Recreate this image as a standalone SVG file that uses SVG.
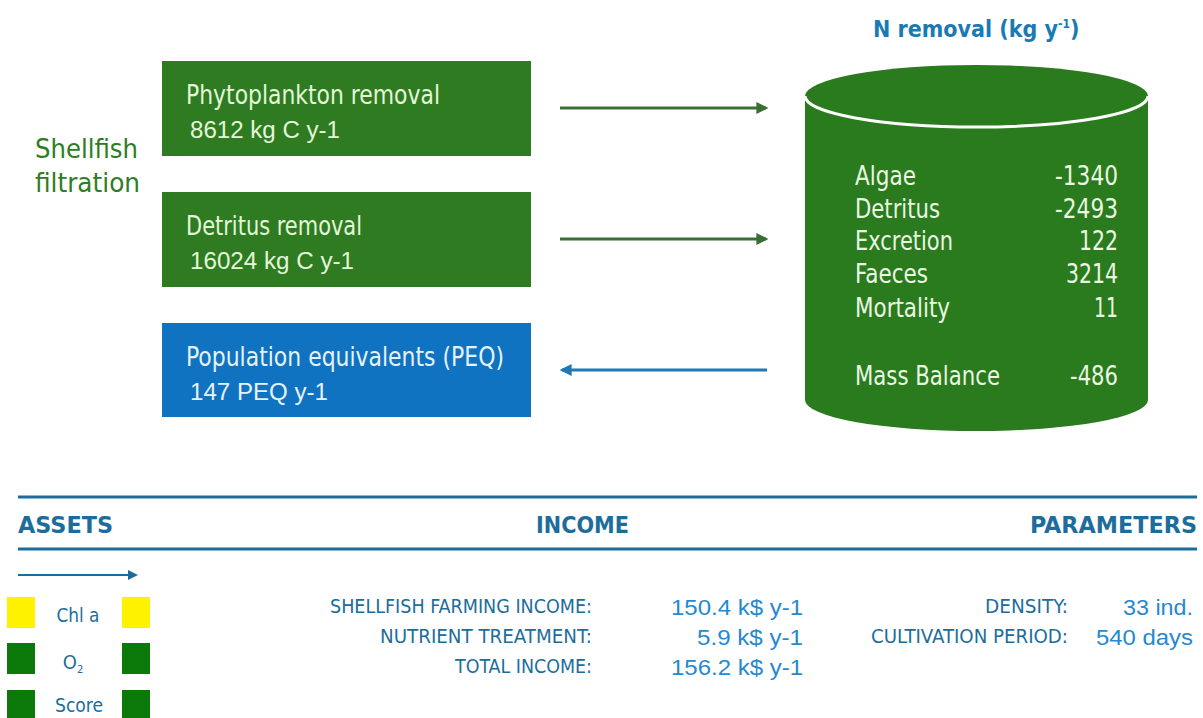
<svg xmlns="http://www.w3.org/2000/svg" width="1203" height="718" viewBox="0 0 1203 718">
<defs>
<style>
.cond{font-family:"DejaVu Sans Condensed","Liberation Sans",sans-serif;font-stretch:condensed}
.arial{font-family:"Liberation Sans",Arial,sans-serif}
.boxt{fill:#e4f7d8}
.hdr{fill:#1c6d9c;font-weight:bold;font-size:23px}
.lbl{fill:#1c6d9c;font-size:19px}
.val{fill:#2589d2;font-size:22px}
.cyl{fill:#eaf7e2;font-size:26px}
</style>
<marker id="ahG" viewBox="0 0 10 10" refX="8" refY="5" markerWidth="4" markerHeight="4" orient="auto"><path d="M0,0 L10,5 L0,10 Z" fill="#3b6e36"/></marker>
<marker id="ahB" viewBox="0 0 10 10" refX="8" refY="5" markerWidth="4" markerHeight="4" orient="auto"><path d="M0,0 L10,5 L0,10 Z" fill="#1f78b4"/></marker>
<marker id="ahT" viewBox="0 0 10 10" refX="8" refY="5" markerWidth="5" markerHeight="5" orient="auto"><path d="M0,0 L10,5 L0,10 Z" fill="#1c6d9c"/></marker>
</defs>
<rect width="1203" height="718" fill="#ffffff"/>

<text class="cond" x="35" y="158" font-size="27" fill="#2e7d22" textLength="103" lengthAdjust="spacingAndGlyphs">Shellfish</text>
<text class="cond" x="35" y="192" font-size="27" fill="#2e7d22" textLength="105" lengthAdjust="spacingAndGlyphs">filtration</text>

<g id="phyto">
<rect x="162" y="61" width="369" height="95" fill="#2e7b22"/>
<text class="cond boxt" x="186" y="104" font-size="26" textLength="254" lengthAdjust="spacingAndGlyphs">Phytoplankton removal</text>
<text class="arial boxt" x="190" y="138" font-size="23" textLength="150" lengthAdjust="spacingAndGlyphs">8612 kg C y-1</text>
</g>
<g id="detritus">
<rect x="162" y="192" width="369" height="95" fill="#2e7b22"/>
<text class="cond boxt" x="186" y="235" font-size="26" textLength="176" lengthAdjust="spacingAndGlyphs">Detritus removal</text>
<text class="arial boxt" x="190" y="269" font-size="23" textLength="164" lengthAdjust="spacingAndGlyphs">16024 kg C y-1</text>
</g>
<g id="peq">
<rect x="162" y="323" width="369" height="94" fill="#0f73c1"/>
<text class="cond" fill="#e6f2fb" x="186" y="366" font-size="26" textLength="318" lengthAdjust="spacingAndGlyphs">Population equivalents (PEQ)</text>
<text class="arial" fill="#e6f2fb" x="190" y="400" font-size="23" textLength="138" lengthAdjust="spacingAndGlyphs">147 PEQ y-1</text>
</g>

<g id="connectors" stroke-width="3" fill="none">
<line x1="560" y1="108" x2="766" y2="108" stroke="#3b6e36" marker-end="url(#ahG)"/>
<line x1="560" y1="239" x2="766" y2="239" stroke="#3b6e36" marker-end="url(#ahG)"/>
<line x1="767" y1="370" x2="562" y2="370" stroke="#1f78b4" marker-end="url(#ahB)"/>
</g>

<g id="nremoval">
<text class="cond" x="873" y="37" font-size="23" font-weight="bold" fill="#1a7ab2">N removal (kg y<tspan font-size="12" dy="-9">-1</tspan><tspan dy="9">)</tspan></text>
<path d="M805,96 L805,400 A171.5,31 0 0 0 1148,400 L1148,96 Z" fill="#2a7a1e"/>
<ellipse cx="976.5" cy="96" rx="171.5" ry="31" fill="#2a7a1e"/>
<path d="M805,96 A171.5,31 0 0 0 1148,96" fill="none" stroke="#ffffff" stroke-width="3"/>
<g class="cond cyl">
<text x="855" y="185" textLength="61" lengthAdjust="spacingAndGlyphs">Algae</text>
<text x="855" y="218" textLength="85" lengthAdjust="spacingAndGlyphs">Detritus</text>
<text x="855" y="250" textLength="98" lengthAdjust="spacingAndGlyphs">Excretion</text>
<text x="855" y="283" textLength="73" lengthAdjust="spacingAndGlyphs">Faeces</text>
<text x="855" y="317" textLength="95" lengthAdjust="spacingAndGlyphs">Mortality</text>
<text x="855" y="385" textLength="145" lengthAdjust="spacingAndGlyphs">Mass Balance</text>
</g>
<g class="cond cyl" text-anchor="end">
<text x="1118" y="185" textLength="63" lengthAdjust="spacingAndGlyphs">-1340</text>
<text x="1118" y="218" textLength="63" lengthAdjust="spacingAndGlyphs">-2493</text>
<text x="1118" y="250" textLength="39" lengthAdjust="spacingAndGlyphs">122</text>
<text x="1118" y="283" textLength="52" lengthAdjust="spacingAndGlyphs">3214</text>
<text x="1118" y="317" textLength="24" lengthAdjust="spacingAndGlyphs">11</text>
<text x="1118" y="385" textLength="48" lengthAdjust="spacingAndGlyphs">-486</text>
</g>
</g>

<g id="header">
<line x1="18" y1="497" x2="1197" y2="497" stroke="#1c6d9c" stroke-width="3"/>
<line x1="18" y1="549" x2="1197" y2="549" stroke="#1c6d9c" stroke-width="3"/>
<text class="cond hdr" x="18" y="533" textLength="95" lengthAdjust="spacingAndGlyphs">ASSETS</text>
<text class="cond hdr" x="536" y="533" textLength="93" lengthAdjust="spacingAndGlyphs">INCOME</text>
<text class="cond hdr" x="1030" y="533" textLength="167" lengthAdjust="spacingAndGlyphs">PARAMETERS</text>
</g>

<g id="assets">
<line x1="18" y1="575" x2="136" y2="575" stroke="#1c6d9c" stroke-width="2" marker-end="url(#ahT)"/>
<rect x="7" y="597" width="28" height="31" fill="#fff200"/>
<rect x="122" y="597" width="28" height="31" fill="#fff200"/>
<rect x="7" y="643" width="28" height="31" fill="#0b7a0b"/>
<rect x="122" y="643" width="28" height="31" fill="#0b7a0b"/>
<rect x="7" y="690" width="28" height="31" fill="#0b7a0b"/>
<rect x="122" y="690" width="28" height="31" fill="#0b7a0b"/>
<text class="cond" x="78" y="622" font-size="20" fill="#1c6d9c" text-anchor="middle" textLength="43" lengthAdjust="spacingAndGlyphs">Chl a</text>
<text class="cond" x="73" y="669" font-size="20" fill="#1c6d9c" text-anchor="middle">O<tspan font-size="11" dy="4">2</tspan></text>
<text class="cond" x="79" y="712" font-size="20" fill="#1c6d9c" text-anchor="middle" textLength="48" lengthAdjust="spacingAndGlyphs">Score</text>
</g>

<g id="income">
<g class="cond lbl" text-anchor="end">
<text x="592" y="613" textLength="262" lengthAdjust="spacingAndGlyphs">SHELLFISH FARMING INCOME:</text>
<text x="592" y="643" textLength="212" lengthAdjust="spacingAndGlyphs">NUTRIENT TREATMENT:</text>
<text x="592" y="673" textLength="137" lengthAdjust="spacingAndGlyphs">TOTAL INCOME:</text>
</g>
<g class="arial val" text-anchor="end">
<text x="803" y="615" textLength="132" lengthAdjust="spacingAndGlyphs">150.4 k$ y-1</text>
<text x="803" y="645" textLength="106" lengthAdjust="spacingAndGlyphs">5.9 k$ y-1</text>
<text x="803" y="675" textLength="132" lengthAdjust="spacingAndGlyphs">156.2 k$ y-1</text>
</g>
</g>

<g id="parameters">
<g class="cond lbl" text-anchor="end">
<text x="1068" y="613" textLength="83" lengthAdjust="spacingAndGlyphs">DENSITY:</text>
<text x="1068" y="643" textLength="197" lengthAdjust="spacingAndGlyphs">CULTIVATION PERIOD:</text>
</g>
<g class="arial val" text-anchor="end">
<text x="1193" y="615" textLength="70" lengthAdjust="spacingAndGlyphs">33 ind.</text>
<text x="1193" y="645" textLength="97" lengthAdjust="spacingAndGlyphs">540 days</text>
</g>
</g>
</svg>
